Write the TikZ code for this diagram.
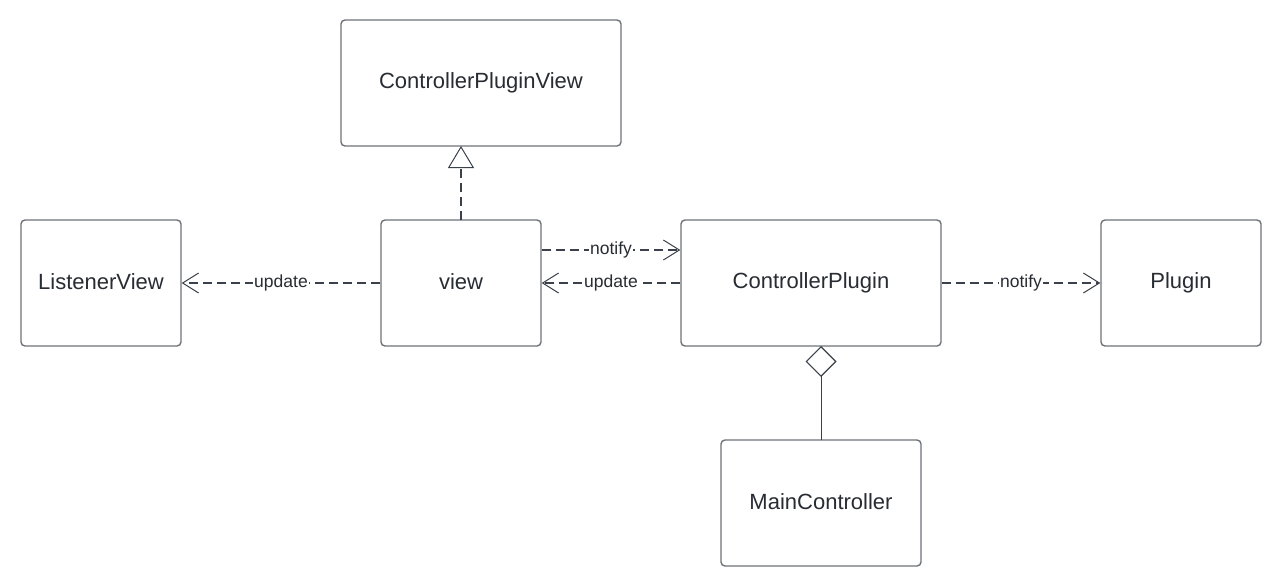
\documentclass[tikz,border=0pt]{standalone}
\usepackage{fontspec}
\setmainfont{Liberation Sans}
\usetikzlibrary{arrows.meta}
\definecolor{txt}{HTML}{282C33}
\definecolor{boxc}{HTML}{6E7278}
\definecolor{linec}{HTML}{3A414A}
\tikzset{
  umlbox/.style={draw=boxc, line width=1.4pt, rounded corners=4pt, fill=white,
    text=txt, inner sep=0pt, minimum height=126pt,
    font=\fontsize{22}{26}\selectfont},
  dep/.style={draw=linec, line width=1.5pt, dash pattern=on 9pt off 5pt,
    -{Straight Barb[length=16pt,width=20pt,line width=1pt]}},
  lbl/.style={midway, fill=white, inner sep=1pt, text=txt,
    font=\fontsize{17.5}{20}\selectfont},
}
\begin{document}
\begin{tikzpicture}[x=1pt,y=-1pt]
\useasboundingbox (0,0) rectangle (1281,587);
\node[umlbox, minimum width=280pt] (cpv) at (481,83) {\raisebox{2pt}{ControllerPluginView}};
\node[umlbox, minimum width=160pt] (lv) at (101,283) {\raisebox{2pt}{ListenerView}};
\node[umlbox, minimum width=160pt] (view) at (461,283) {\raisebox{2pt}{view}};
\node[umlbox, minimum width=260pt] (cp) at (811,283) {\raisebox{2pt}{ControllerPlugin}};
\node[umlbox, minimum width=160pt] (pl) at (1181,283) {\raisebox{2pt}{Plugin}};
\node[umlbox, minimum width=200pt] (mc) at (821,503) {\raisebox{2pt}{MainController}};
\coordinate (vtop) at (461,220);
\coordinate (cpvb) at (461,146);
\coordinate (mctop) at (821,440);
\coordinate (cpbot) at (821,346);
\draw[draw=linec, line width=1.3pt, dash pattern=on 9pt off 5pt,
  -{Triangle[open,length=22pt,width=26pt,line width=1pt]}] (vtop) -- (cpvb);
\draw[dep] (view.west) -- (lv.east) node[lbl] {update};
\draw[dep] ([yshift=33pt]view.east) -- ([yshift=33pt]cp.west) node[lbl] {notify};
\draw[dep] (cp.west) -- (view.east) node[lbl] {update};
\draw[dep] (cp.east) -- (pl.west) node[lbl] {notify};
\draw[draw=linec, line width=1pt,
  -{Diamond[open,length=31pt,width=31pt,line width=1.2pt]}] (mctop) -- (cpbot);
\end{tikzpicture}
\end{document}
